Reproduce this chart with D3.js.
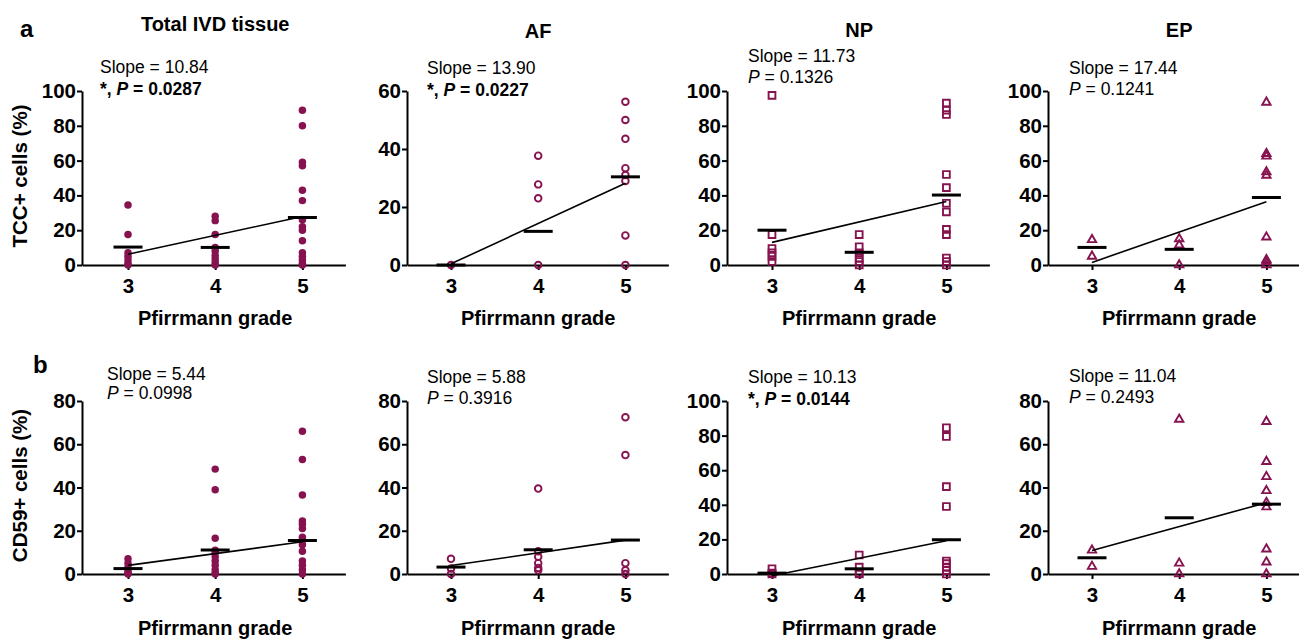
<!DOCTYPE html>
<html>
<head>
<meta charset="utf-8">
<script src="https://cdn.jsdelivr.net/npm/d3@7"></script>
<style>
  body { margin: 0; background: #fff; }
  svg { display: block; font-family: 'Liberation Sans', Arial, sans-serif; }
</style>
</head>
<body>
<script>
'use strict'

// x categories and the four tissue regions
const grades = [3, 4, 5]
const regions = ['Total IVD tissue', 'AF', 'NP', 'EP']
const markers = ['dot', 'circle', 'square', 'triangle']

// TCC+ cells (%) per grade
const tccTotal = [[34.5, 17.5, 7, 5, 3, 1, 0], [28, 25.5, 17.5, 10, 8, 5.5, 3.5, 1.5, 0], [89, 80, 59, 57, 43, 37, 26, 22, 20, 14, 7, 5, 3, 1, 0]]
const tccAF = [[0], [37.7, 27.8, 23, 0], [56.3, 50, 43.5, 33.4, 31, 29, 10.2, 0]]
const tccNP = [[97.5, 17.5, 9.5, 7, 5, 2], [17.5, 10.5, 7, 4, 2, 0], [93, 89, 86.5, 52, 44.5, 35.5, 30.5, 20.5, 17.5, 4, 2, 0]]
const tccEP = [[14.5, 5], [15, 11.5, 0], [93.5, 64, 62.5, 53.5, 51.5, 16, 3, 2, 0]]
const tccMean = [[10.3, 10.1, 27.3], [0, 11.6, 30.4], [20, 7.3, 40.2], [10.1, 9, 38.8]]
const tccSlope = [10.84, 13.90, 11.73, 17.44]
const tccFitAt3 = [6.2, 0.4, 13, 1.5]
const tccP = ['0.0287', '0.0227', '0.1326', '0.1241']
const tccSig = [true, true, false, false]
const tccMax = [100, 60, 100, 100]

// CD59+ cells (%)
const cdTotal = [[7, 5, 3, 1.5, 0.5, 0], [48.5, 39, 16.5, 11, 10, 8, 6, 4, 2, 0.5, 0], [66, 53, 36.5, 24.5, 23, 21, 17, 15.5, 13.5, 10.5, 6, 4, 2, 0]]
const cdAF = [[7, 2.5, 0], [39.5, 10.5, 8, 5, 2.8, 1.7], [72.5, 55, 5, 1.7, 0]]
const cdNP = [[3, 0.5, 0], [11, 4, 0.5, 0], [84.5, 79.5, 50.5, 39, 7.5, 6, 4, 2, 0]]
const cdEP = [[11, 3.5], [71.5, 5, 0], [70.5, 52, 45, 38.5, 33, 31, 11.5, 5.5, 0]]
const cdMean = [[2.5, 11.1, 15.5], [3.2, 11.2, 15.7], [0.5, 3, 19.8], [7.5, 26, 32.3]]
const cdSlope = [5.44, 5.88, 10.13, 11.04]
const cdFitAt3 = [4, 3.9, -1, 10.9]
const cdP = ['0.0998', '0.3916', '0.0144', '0.2493']
const cdSig = [false, false, true, false]
const cdMax = [80, 80, 100, 80]

const width = 1299
const height = 641
const markColor = '#861350'

// panel placement
const axisX = [82, 407, 727, 1048]
const grade3X = [128, 451, 772, 1092]
const gradeStep = 87.2
const rowsPos = [
  { y0: 265, yTop: 91, noteX: [100, 427, 748, 1069], noteY: [[72.5, 95], [74, 95.5], [61.5, 82.5], [74, 95]] },
  { y0: 574, yTop: 401, noteX: [107, 427, 748, 1069], noteY: [[380, 398.5], [383, 404], [383, 405], [382, 403]] }
]

const rows = [
  { points: [tccTotal, tccAF, tccNP, tccEP], mean: tccMean, slope: tccSlope, fit: tccFitAt3, p: tccP, sig: tccSig, max: tccMax, label: 'TCC+ cells (%)' },
  { points: [cdTotal, cdAF, cdNP, cdEP], mean: cdMean, slope: cdSlope, fit: cdFitAt3, p: cdP, sig: cdSig, max: cdMax, label: 'CD59+ cells (%)' }
]

const symbols = {
  dot: d3.symbol(d3.symbolCircle, 44),
  circle: d3.symbol(d3.symbolCircle, 34),
  square: d3.symbol(d3.symbolSquare, 46),
  triangle: d3.symbol(d3.symbolTriangle, 30)
}

const svg = d3.select('body').append('svg')
  .attr('width', width)
  .attr('height', height)

// panel letters and column titles
svg.append('text').attr('x', 20).attr('y', 36.5)
  .attr('font-size', 24).attr('font-weight', 'bold').text('a')
svg.append('text').attr('x', 33).attr('y', 373)
  .attr('font-size', 24).attr('font-weight', 'bold').text('b')

const titleY = [31, 38, 37, 37]
regions.forEach(function (name, i) {
  svg.append('text')
    .attr('x', grade3X[i] + gradeStep)
    .attr('y', titleY[i])
    .attr('text-anchor', 'middle')
    .attr('font-size', 20)
    .attr('font-weight', 'bold')
    .text(name)
})

rows.forEach(function (row, r) {
  const pos = rowsPos[r]

  svg.append('text')
    .attr('transform', 'translate(27,' + ((pos.y0 + pos.yTop) / 2 - 2) + ') rotate(-90)')
    .attr('text-anchor', 'middle')
    .attr('font-size', 20.5)
    .attr('font-weight', 'bold')
    .text(row.label)

  regions.forEach(function (name, i) {
    const g = svg.append('g')
    const g3 = grade3X[i]
    const axisEnd = g3 + 2 * gradeStep + 43

    const x = d3.scaleLinear().domain([3, 5]).range([g3, g3 + 2 * gradeStep])
    x.domain([x.invert(axisX[i]), x.invert(axisEnd)]).range([axisX[i], axisEnd])

    const y = d3.scaleLinear().domain([0, row.max[i]]).range([pos.y0, pos.yTop])

    const yAxis = g.append('g')
      .attr('transform', 'translate(' + axisX[i] + ',0)')
      .call(d3.axisLeft(y).tickValues(d3.range(0, row.max[i] + 1, 20))
        .tickSize(5).tickSizeOuter(0).tickPadding(1))

    const xAxis = g.append('g')
      .attr('transform', 'translate(0,' + pos.y0 + ')')
      .call(d3.axisBottom(x).tickValues(grades).tickFormat(d3.format('d'))
        .tickSize(5).tickSizeOuter(0).tickPadding(8))

    ;[yAxis, xAxis].forEach(function (ax) {
      ax.attr('font-family', null).attr('font-size', 20.5).attr('font-weight', 'bold')
      ax.selectAll('path, line').attr('stroke', '#000').attr('stroke-width', 2)
      ax.selectAll('text').attr('fill', '#000')
    })

    g.append('text')
      .attr('x', g3 + gradeStep)
      .attr('y', r === 0 ? 325 : 635)
      .attr('text-anchor', 'middle')
      .attr('font-size', 20)
      .attr('font-weight', 'bold')
      .text('Pfirrmann grade')

    // data points
    const pts = []
    row.points[i].forEach(function (vals, k) {
      vals.forEach(function (v) { pts.push({ grade: grades[k], value: v }) })
    })
    const kind = markers[i]
    g.append('g').selectAll('path')
      .data(pts)
      .enter()
      .append('path')
      .attr('transform', function (d) { return 'translate(' + x(d.grade) + ',' + y(d.value) + ')' })
      .attr('d', symbols[kind])
      .attr('fill', kind === 'dot' ? markColor : 'none')
      .attr('stroke', kind === 'dot' ? 'none' : markColor)
      .attr('stroke-width', 1.9)

    // regression line
    const fitLine = d3.line()
      .x(function (d) { return x(d) })
      .y(function (d) { return y(row.fit[i] + row.slope[i] * (d - 3)) })
    g.append('path')
      .datum([3, 5])
      .attr('d', fitLine)
      .attr('fill', 'none')
      .attr('stroke', '#000')
      .attr('stroke-width', 1.6)

    // group means
    g.append('g').selectAll('line')
      .data(row.mean[i])
      .enter()
      .append('line')
      .attr('x1', function (d, k) { return x(grades[k]) - 14.5 })
      .attr('x2', function (d, k) { return x(grades[k]) + 14.5 })
      .attr('y1', function (d) { return y(d) })
      .attr('y2', function (d) { return y(d) })
      .attr('stroke', '#000')
      .attr('stroke-width', 3)

    // slope and P annotation
    g.append('text')
      .attr('x', pos.noteX[i])
      .attr('y', pos.noteY[i][0])
      .attr('font-size', 17.5)
      .text('Slope = ' + row.slope[i].toFixed(2))

    const pText = g.append('text')
      .attr('x', pos.noteX[i])
      .attr('y', pos.noteY[i][1])
      .attr('font-size', 17.5)
      .attr('font-weight', row.sig[i] ? 'bold' : 'normal')
    if (row.sig[i]) pText.append('tspan').text('*, ')
    pText.append('tspan').attr('font-style', 'italic').text('P')
    pText.append('tspan').text(' = ' + row.p[i])
  })
})
</script>
</body>
</html>
